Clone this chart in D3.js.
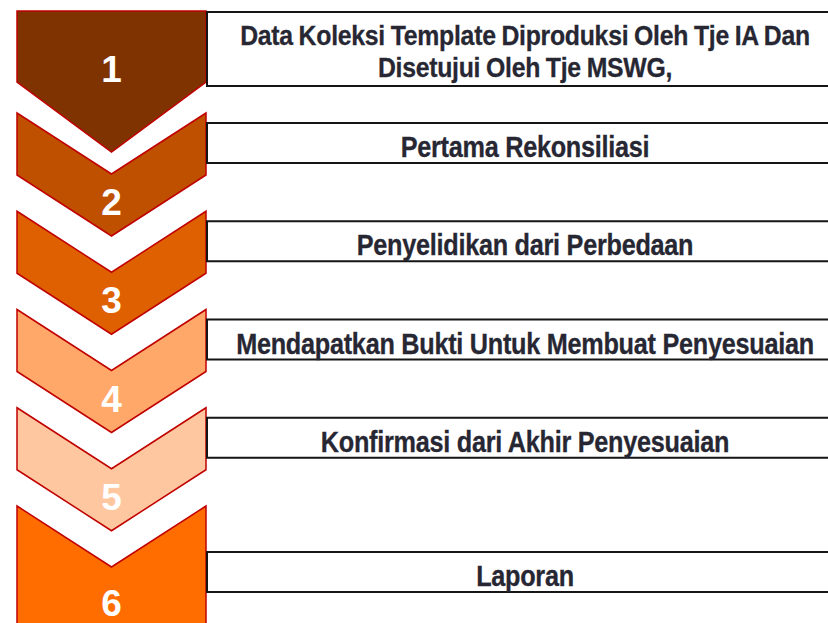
<!DOCTYPE html>
<html>
<head>
<meta charset="utf-8">
<title>Proses Rekonsiliasi</title>
<style>
  body { margin: 0; background: #fff; }
  .num { font-family: "Liberation Sans", Arial, sans-serif; font-weight: bold; fill: #fff; text-anchor: middle; }
  .step { font-family: "Liberation Sans", Arial, sans-serif; font-weight: bold; fill: #272733; stroke: #272733; stroke-width: 0.3; text-anchor: middle; }
  .box { fill: #fff; stroke: #151515; stroke-width: 2; }
  .chev { stroke: #c00000; stroke-width: 1.5; stroke-linejoin: miter; }
</style>
</head>
<body>
<svg width="828" height="623"></svg>
<script src="https://d3js.org/d3.v7.min.js"></script>
<script>
// steps of the process
var stepNumbers = [1, 2, 3, 4, 5, 6];
var stepLabels = [
  ["Data Koleksi Template Diproduksi Oleh Tje IA Dan", "Disetujui Oleh Tje MSWG,"],
  ["Pertama Rekonsiliasi"],
  ["Penyelidikan dari Perbedaan"],
  ["Mendapatkan Bukti Untuk Membuat Penyesuaian"],
  ["Konfirmasi dari Akhir Penyesuaian"],
  ["Laporan"]
];
var stepColors = ["#7f3300", "#bf5000", "#df6000", "#ffa86a", "#ffc79f", "#ff6d00"];

var svg = d3.select("svg");

// vertical layout: top of each chevron
var y = d3.scaleLinear().domain([2, 6]).range([113, 506]);
var x = d3.scaleLinear().domain([0, 1]).range([17, 206]);   // chevron width
var depth = 61, side = 62;
var boxX = 207, boxW = 636;
var widest = 578;   // width of the longest label line

function chevronPath(k) {
  var x0 = x(0), x1 = x(1), xm = (x0 + x1) / 2;
  if (k === 1) {
    var t = 11, c = 82, p = 152;
    return d3.line()([[x0, t], [x1, t], [x1, c], [xm, p], [x0, c]]) + "Z";
  }
  var y0 = y(k);
  if (k === stepNumbers.length) {
    return d3.line()([[x0, y0], [xm, y0 + depth], [x1, y0], [x1, 700], [x0, 700]]) + "Z";
  }
  return d3.line()([[x0, y0], [xm, y0 + depth], [x1, y0], [x1, y0 + side],
                    [xm, y0 + side + depth], [x0, y0 + side]]) + "Z";
}

function numberY(k) {
  if (k === 1) return 82;
  if (k === stepNumbers.length) return y(k) + 110;
  return y(k) + 102;
}

function boxCenter(k) {
  if (k === 1) return 49;
  if (k === stepNumbers.length) return y(k) + 66;
  return y(k) + 30;
}

var steps = stepNumbers.map(function(n, i) {
  return { n: n, lines: stepLabels[i], color: stepColors[i] };
});

// chevrons
svg.append("g").selectAll("path")
  .data(steps)
  .enter().append("path")
  .attr("class", "chev")
  .attr("fill", function(d) { return d.color; })
  .attr("d", function(d) { return chevronPath(d.n); });

svg.append("g").selectAll("text")
  .data(steps)
  .enter().append("text")
  .attr("class", "num")
  .attr("x", (x(0) + x(1)) / 2)
  .attr("y", function(d) { return numberY(d.n); })
  .style("font-size", "37px")
  .text(function(d) { return d.n; });

// text boxes
var boxes = svg.append("g").selectAll("g")
  .data(steps)
  .enter().append("g");

boxes.append("rect")
  .attr("class", "box")
  .attr("x", boxX)
  .attr("y", function(d) { var h = d.lines.length > 1 ? 74 : 40; return boxCenter(d.n) - h / 2; })
  .attr("width", boxW)
  .attr("height", function(d) { return d.lines.length > 1 ? 74 : 40; });

var labels = [];
boxes.each(function(d) {
  var g = d3.select(this), c = boxCenter(d.n), n = d.lines.length;
  d.lines.forEach(function(line, i) {
    var t = g.append("g")
      .attr("transform", "translate(" + (boxX + boxW / 2) + "," +
            (c + (i - (n - 1) / 2) * 32 + (n > 1 ? 12 : 14)) + ")")
      .append("text")
      .attr("class", "step")
      .style("font-size", n > 1 ? "28.5px" : "29px")
      .style("letter-spacing", "-0.3px")
      .style("word-spacing", n > 1 ? "-1px" : "0px")
      .text(line);
    labels.push({ node: t, w: t.node().getComputedTextLength(), line: line });
  });
});

// condense the font horizontally so the longest line fits the reference width
var longest = labels.filter(function(l) { return l.line.indexOf("Mendapatkan") === 0; })[0];
var sx = widest / longest.w;
labels.forEach(function(l) { l.node.attr("transform", "scale(" + sx + ",1)"); });
</script>
</body>
</html>
